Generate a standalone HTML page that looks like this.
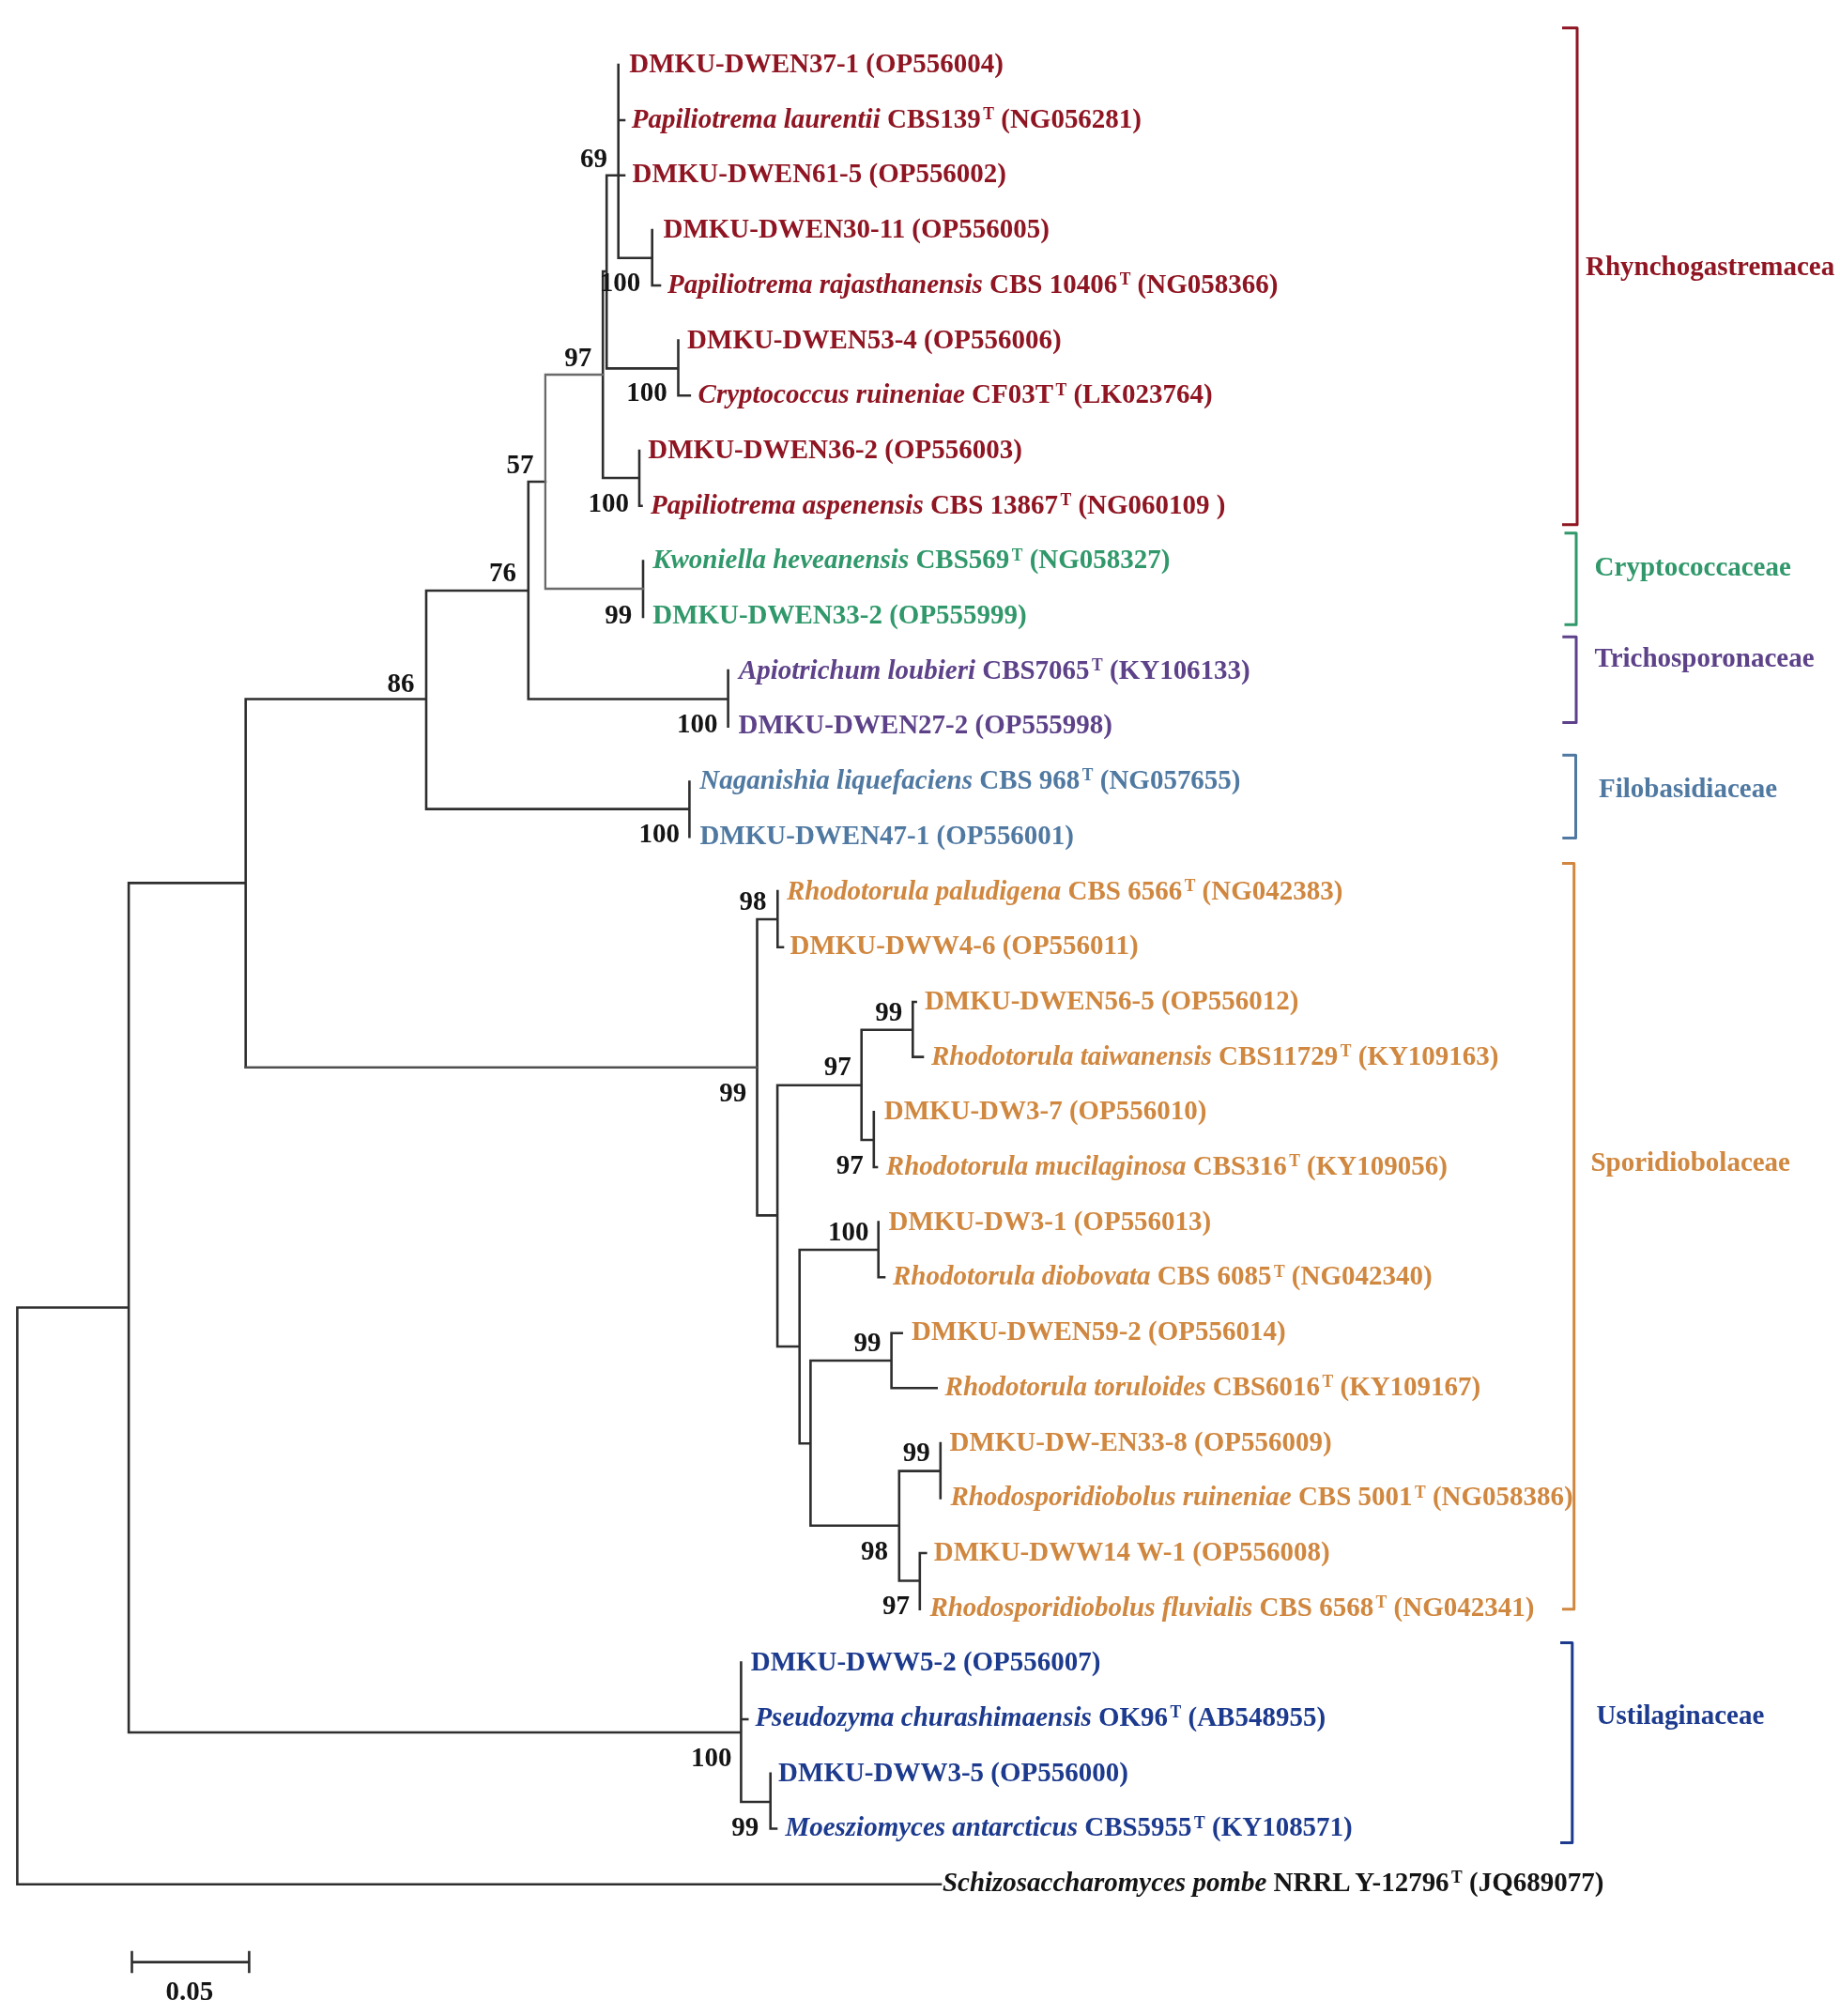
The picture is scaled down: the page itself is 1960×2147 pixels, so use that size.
<!DOCTYPE html><html><head><meta charset="utf-8"><style>html,body{margin:0;padding:0;background:#fff;width:1960px;height:2147px;overflow:hidden}svg{display:block;filter:blur(0.5px)}text{font-family:"Liberation Serif",serif;font-weight:bold;font-size:29px;white-space:pre}.i{font-style:italic}</style></head><body>
<svg width="1960" height="2147" viewBox="0 0 1960 2147">
<rect width="1960" height="2147" fill="#fff"/>
<path d="M18.4 1392.5L18.4 2006.8 M18.4 1392.5L137.1 1392.5 M18.4 2006.8L1002.0 2006.8 M137.1 940.4L137.1 1845.0 M137.1 940.4L261.7 940.4 M137.1 1845.0L789.4 1845.0 M261.7 744.5L261.7 1136.5 M261.7 744.5L454.0 744.5 M454.0 629.0L454.0 861.6 M454.0 629.0L562.8 629.0 M454.0 861.6L734.4 861.6 M562.8 513.0L562.8 744.5 M562.8 513.0L580.9 513.0 M562.8 744.5L775.6 744.5 M642.2 289.0L642.2 509.0 M642.2 289.0L646.2 289.0 M642.2 509.0L681.0 509.0 M646.2 186.7L646.2 392.4 M646.2 186.7L658.7 186.7 M646.2 392.4L722.5 392.4 M658.7 69.0L658.7 274.8 M658.7 128.0L665.0 128.0 M658.7 186.7L665.0 186.7 M658.7 274.8L694.7 274.8 M694.7 245.0L694.7 304.0 M694.7 304.0L703.0 304.0 M722.5 362.5L722.5 421.2 M722.5 421.2L734.8 421.2 M681.0 480.0L681.0 538.8 M681.0 538.8L683.5 538.8 M685.0 597.5L685.0 657.0 M775.6 714.0L775.6 773.6 M734.4 832.5L734.4 891.3 M806.5 979.0L806.5 1294.4 M806.5 979.0L828.3 979.0 M806.5 1294.4L828.1 1294.4 M828.3 949.0L828.3 1008.7 M828.3 1008.7L834.0 1008.7 M828.1 1155.8L828.1 1434.0 M828.1 1155.8L917.7 1155.8 M828.1 1434.0L851.7 1434.0 M917.7 1096.7L917.7 1214.0 M917.7 1096.7L972.3 1096.7 M917.7 1214.0L930.8 1214.0 M972.3 1067.0L972.3 1125.6 M972.3 1067.0L975.6 1067.0 M972.3 1125.6L983.0 1125.6 M930.8 1184.3L930.8 1243.0 M930.8 1243.0L934.0 1243.0 M851.7 1331.0L851.7 1537.2 M851.7 1331.0L935.7 1331.0 M851.7 1537.2L863.4 1537.2 M935.7 1301.5L935.7 1360.3 M935.7 1360.3L942.0 1360.3 M863.4 1449.0L863.4 1624.8 M863.4 1449.0L949.6 1449.0 M863.4 1624.8L957.8 1624.8 M949.6 1419.8L949.6 1478.2 M949.6 1419.8L960.7 1419.8 M949.6 1478.2L997.7 1478.2 M957.8 1566.6L957.8 1683.5 M957.8 1566.6L1001.8 1566.6 M957.8 1683.5L979.8 1683.5 M1001.8 1537.0L1001.8 1595.4 M979.8 1654.0L979.8 1713.6 M979.8 1654.0L986.3 1654.0 M789.4 1770.5L789.4 1919.0 M789.4 1831.0L796.2 1831.0 M789.4 1919.0L820.7 1919.0 M820.7 1888.8L820.7 1947.5 M820.7 1947.5L827.0 1947.5 M140.5 2089.6L265.4 2089.6 M140.5 2079.0L140.5 2100.0 M265.4 2079.0L265.4 2100.0" stroke="#2e2e2e" stroke-width="2.6" stroke-linecap="square" fill="none"/>
<path d="M261.7 1136.7L806.5 1136.7" stroke="#505050" stroke-width="2.5" stroke-linecap="square" fill="none"/>
<path d="M580.9 399.0L580.9 627.0 M580.9 399.0L642.2 399.0 M580.9 627.0L685.0 627.0" stroke="#6a6a6a" stroke-width="2.3" stroke-linecap="square" fill="none"/>
<path d="M1664.0 29.8H1680.0V558.7H1664.0" stroke="#8f1522" stroke-width="3" fill="none" stroke-linejoin="round"/>
<path d="M1666.5 567.8H1679.0V665.2H1666.5" stroke="#30986a" stroke-width="3" fill="none" stroke-linejoin="round"/>
<path d="M1664.3 678.3H1679.0V769.6H1664.3" stroke="#5d4289" stroke-width="3" fill="none" stroke-linejoin="round"/>
<path d="M1664.3 804.3H1678.5V892.4H1664.3" stroke="#5079a2" stroke-width="3" fill="none" stroke-linejoin="round"/>
<path d="M1664.0 919.6H1676.7V1713.7H1664.0" stroke="#d0873f" stroke-width="3" fill="none" stroke-linejoin="round"/>
<path d="M1662.0 1749.6H1674.8V1962.6H1662.0" stroke="#1c3a8e" stroke-width="3" fill="none" stroke-linejoin="round"/>
<text transform="translate(670.3 77.0) scale(1 1.050)" fill="#8f1522"><tspan>DMKU-DWEN37-1 (OP556004)</tspan></text>
<text transform="translate(672.8 135.7) scale(1 1.050)" fill="#8f1522"><tspan class="i">Papiliotrema laurentii</tspan><tspan> CBS139</tspan><tspan font-size="17.5" dx="2.5" dy="-8.2">T</tspan><tspan dy="8.2"> (NG056281)</tspan></text>
<text transform="translate(673.5 194.4) scale(1 1.050)" fill="#8f1522"><tspan>DMKU-DWEN61-5 (OP556002)</tspan></text>
<text transform="translate(706.5 253.1) scale(1 1.050)" fill="#8f1522"><tspan>DMKU-DWEN30-11 (OP556005)</tspan></text>
<text transform="translate(711.0 311.8) scale(1 1.050)" fill="#8f1522"><tspan class="i">Papiliotrema rajasthanensis</tspan><tspan> CBS 10406</tspan><tspan font-size="17.5" dx="2.5" dy="-8.2">T</tspan><tspan dy="8.2"> (NG058366)</tspan></text>
<text transform="translate(732.1 370.5) scale(1 1.050)" fill="#8f1522"><tspan>DMKU-DWEN53-4 (OP556006)</tspan></text>
<text transform="translate(743.6 429.2) scale(1 1.050)" fill="#8f1522"><tspan class="i">Cryptococcus ruineniae</tspan><tspan> CF03T</tspan><tspan font-size="17.5" dx="2.5" dy="-8.2">T</tspan><tspan dy="8.2"> (LK023764)</tspan></text>
<text transform="translate(690.3 487.9) scale(1 1.050)" fill="#8f1522"><tspan>DMKU-DWEN36-2 (OP556003)</tspan></text>
<text transform="translate(693.0 546.6) scale(1 1.050)" fill="#8f1522"><tspan class="i">Papiliotrema aspenensis</tspan><tspan> CBS 13867</tspan><tspan font-size="17.5" dx="2.5" dy="-8.2">T</tspan><tspan dy="8.2"> (NG060109 )</tspan></text>
<text transform="translate(695.2 605.3) scale(1 1.050)" fill="#30986a"><tspan class="i">Kwoniella heveanensis</tspan><tspan> CBS569</tspan><tspan font-size="17.5" dx="2.5" dy="-8.2">T</tspan><tspan dy="8.2"> (NG058327)</tspan></text>
<text transform="translate(695.2 664.0) scale(1 1.050)" fill="#30986a"><tspan>DMKU-DWEN33-2 (OP555999)</tspan></text>
<text transform="translate(786.9 722.7) scale(1 1.050)" fill="#5d4289"><tspan class="i">Apiotrichum loubieri</tspan><tspan> CBS7065</tspan><tspan font-size="17.5" dx="2.5" dy="-8.2">T</tspan><tspan dy="8.2"> (KY106133)</tspan></text>
<text transform="translate(786.5 781.4) scale(1 1.050)" fill="#5d4289"><tspan>DMKU-DWEN27-2 (OP555998)</tspan></text>
<text transform="translate(745.3 840.1) scale(1 1.050)" fill="#5079a2"><tspan class="i">Naganishia liquefaciens</tspan><tspan> CBS 968</tspan><tspan font-size="17.5" dx="2.5" dy="-8.2">T</tspan><tspan dy="8.2"> (NG057655)</tspan></text>
<text transform="translate(745.5 898.8) scale(1 1.050)" fill="#5079a2"><tspan>DMKU-DWEN47-1 (OP556001)</tspan></text>
<text transform="translate(838.0 957.5) scale(1 1.050)" fill="#d0873f"><tspan class="i">Rhodotorula paludigena</tspan><tspan> CBS 6566</tspan><tspan font-size="17.5" dx="2.5" dy="-8.2">T</tspan><tspan dy="8.2"> (NG042383)</tspan></text>
<text transform="translate(841.5 1016.2) scale(1 1.050)" fill="#d0873f"><tspan>DMKU-DWW4-6 (OP556011)</tspan></text>
<text transform="translate(984.9 1074.9) scale(1 1.050)" fill="#d0873f"><tspan>DMKU-DWEN56-5 (OP556012)</tspan></text>
<text transform="translate(992.0 1133.6) scale(1 1.050)" fill="#d0873f"><tspan class="i">Rhodotorula taiwanensis</tspan><tspan> CBS11729</tspan><tspan font-size="17.5" dx="2.5" dy="-8.2">T</tspan><tspan dy="8.2"> (KY109163)</tspan></text>
<text transform="translate(941.7 1192.3) scale(1 1.050)" fill="#d0873f"><tspan>DMKU-DW3-7 (OP556010)</tspan></text>
<text transform="translate(943.8 1251.0) scale(1 1.050)" fill="#d0873f"><tspan class="i">Rhodotorula mucilaginosa</tspan><tspan> CBS316</tspan><tspan font-size="17.5" dx="2.5" dy="-8.2">T</tspan><tspan dy="8.2"> (KY109056)</tspan></text>
<text transform="translate(946.5 1309.7) scale(1 1.050)" fill="#d0873f"><tspan>DMKU-DW3-1 (OP556013)</tspan></text>
<text transform="translate(951.0 1368.4) scale(1 1.050)" fill="#d0873f"><tspan class="i">Rhodotorula diobovata</tspan><tspan> CBS 6085</tspan><tspan font-size="17.5" dx="2.5" dy="-8.2">T</tspan><tspan dy="8.2"> (NG042340)</tspan></text>
<text transform="translate(971.1 1427.1) scale(1 1.050)" fill="#d0873f"><tspan>DMKU-DWEN59-2 (OP556014)</tspan></text>
<text transform="translate(1006.6 1485.8) scale(1 1.050)" fill="#d0873f"><tspan class="i">Rhodotorula toruloides</tspan><tspan> CBS6016</tspan><tspan font-size="17.5" dx="2.5" dy="-8.2">T</tspan><tspan dy="8.2"> (KY109167)</tspan></text>
<text transform="translate(1011.5 1544.5) scale(1 1.050)" fill="#d0873f"><tspan>DMKU-DW-EN33-8 (OP556009)</tspan></text>
<text transform="translate(1012.4 1603.2) scale(1 1.050)" fill="#d0873f"><tspan class="i">Rhodosporidiobolus ruineniae</tspan><tspan> CBS 5001</tspan><tspan font-size="17.5" dx="2.5" dy="-8.2">T</tspan><tspan dy="8.2"> (NG058386)</tspan></text>
<text transform="translate(994.8 1661.9) scale(1 1.050)" fill="#d0873f"><tspan>DMKU-DWW14 W-1 (OP556008)</tspan></text>
<text transform="translate(990.4 1720.6) scale(1 1.050)" fill="#d0873f"><tspan class="i">Rhodosporidiobolus fluvialis</tspan><tspan> CBS 6568</tspan><tspan font-size="17.5" dx="2.5" dy="-8.2">T</tspan><tspan dy="8.2"> (NG042341)</tspan></text>
<text transform="translate(799.7 1779.3) scale(1 1.050)" fill="#1c3a8e"><tspan>DMKU-DWW5-2 (OP556007)</tspan></text>
<text transform="translate(804.4 1838.0) scale(1 1.050)" fill="#1c3a8e"><tspan class="i">Pseudozyma churashimaensis</tspan><tspan> OK96</tspan><tspan font-size="17.5" dx="2.5" dy="-8.2">T</tspan><tspan dy="8.2"> (AB548955)</tspan></text>
<text transform="translate(829.1 1896.7) scale(1 1.050)" fill="#1c3a8e"><tspan>DMKU-DWW3-5 (OP556000)</tspan></text>
<text transform="translate(836.4 1955.4) scale(1 1.050)" fill="#1c3a8e"><tspan class="i">Moesziomyces antarcticus</tspan><tspan> CBS5955</tspan><tspan font-size="17.5" dx="2.5" dy="-8.2">T</tspan><tspan dy="8.2"> (KY108571)</tspan></text>
<text transform="translate(1003.9 2014.1) scale(1 1.050)" fill="#141414"><tspan class="i">Schizosaccharomyces pombe</tspan><tspan> NRRL Y-12796</tspan><tspan font-size="17.5" dx="2.5" dy="-8.2">T</tspan><tspan dy="8.2"> (JQ689077)</tspan></text>
<text transform="translate(618.0 177.5) scale(1 1.050)" fill="#141414">69</text>
<text transform="translate(638.7 309.8) scale(1 1.050)" fill="#141414">100</text>
<text transform="translate(601.2 389.7) scale(1 1.050)" fill="#141414">97</text>
<text transform="translate(667.3 427.0) scale(1 1.050)" fill="#141414">100</text>
<text transform="translate(539.6 503.5) scale(1 1.050)" fill="#141414">57</text>
<text transform="translate(626.5 545.0) scale(1 1.050)" fill="#141414">100</text>
<text transform="translate(521.1 618.6) scale(1 1.050)" fill="#141414">76</text>
<text transform="translate(644.2 663.5) scale(1 1.050)" fill="#141414">99</text>
<text transform="translate(412.6 736.5) scale(1 1.050)" fill="#141414">86</text>
<text transform="translate(721.1 780.0) scale(1 1.050)" fill="#141414">100</text>
<text transform="translate(680.4 897.0) scale(1 1.050)" fill="#141414">100</text>
<text transform="translate(787.6 968.8) scale(1 1.050)" fill="#141414">98</text>
<text transform="translate(766.2 1173.0) scale(1 1.050)" fill="#141414">99</text>
<text transform="translate(932.2 1086.5) scale(1 1.050)" fill="#141414">99</text>
<text transform="translate(877.8 1145.0) scale(1 1.050)" fill="#141414">97</text>
<text transform="translate(890.8 1249.5) scale(1 1.050)" fill="#141414">97</text>
<text transform="translate(882.0 1321.3) scale(1 1.050)" fill="#141414">100</text>
<text transform="translate(909.6 1439.4) scale(1 1.050)" fill="#141414">99</text>
<text transform="translate(961.8 1556.0) scale(1 1.050)" fill="#141414">99</text>
<text transform="translate(917.0 1660.7) scale(1 1.050)" fill="#141414">98</text>
<text transform="translate(939.9 1719.4) scale(1 1.050)" fill="#141414">97</text>
<text transform="translate(736.0 1880.6) scale(1 1.050)" fill="#141414">100</text>
<text transform="translate(779.2 1954.8) scale(1 1.050)" fill="#141414">99</text>
<text transform="translate(176.6 2130.4) scale(1 1.050)" fill="#141414">0.05</text>
<text transform="translate(1689.0 293.2) scale(1 1.050)" fill="#8f1522">Rhynchogastremacea</text>
<text transform="translate(1698.6 613.0) scale(1 1.050)" fill="#30986a">Cryptococcaceae</text>
<text transform="translate(1698.5 710.4) scale(1 1.050)" fill="#5d4289">Trichosporonaceae</text>
<text transform="translate(1703.0 849.0) scale(1 1.050)" fill="#5079a2">Filobasidiaceae</text>
<text transform="translate(1694.4 1246.7) scale(1 1.050)" fill="#d0873f">Sporidiobolaceae</text>
<text transform="translate(1700.6 1836.0) scale(1 1.050)" fill="#1c3a8e">Ustilaginaceae</text>
</svg></body></html>
